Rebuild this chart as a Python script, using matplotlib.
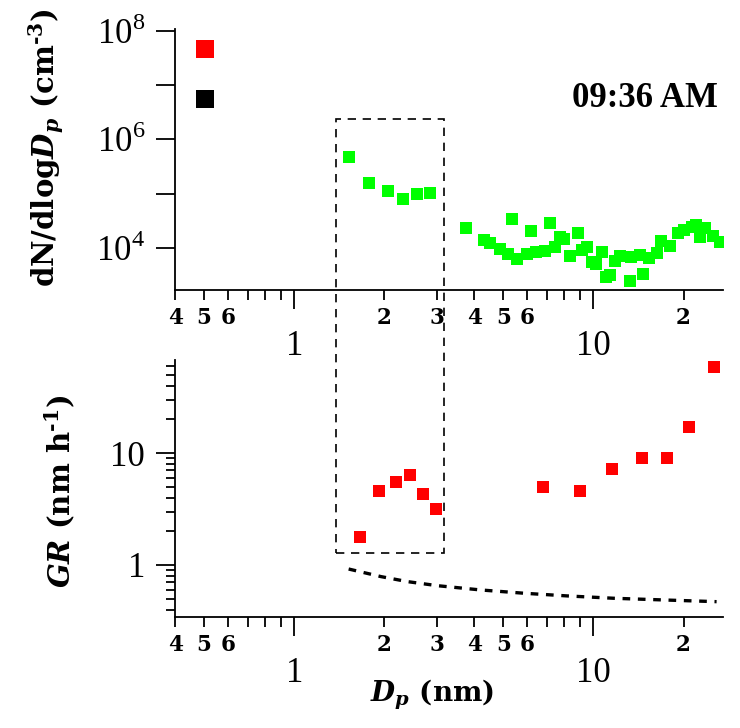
import numpy as np
import matplotlib
matplotlib.use('Agg')
import matplotlib.pyplot as plt
import matplotlib.ticker as mticker
import matplotlib.patches as patches
from matplotlib.lines import Line2D

plt.rcParams['font.family'] = 'DejaVu Serif'
plt.rcParams['mathtext.fontset'] = 'custom'
plt.rcParams['mathtext.rm'] = 'Liberation Serif'
plt.rcParams['mathtext.bf'] = 'DejaVu Serif:bold'
plt.rcParams['mathtext.it'] = 'DejaVu Serif:italic'
plt.rcParams['mathtext.bfit'] = 'DejaVu Serif:italic:bold'

# size distribution (top panel)
dp_psd = [1.53, 1.78, 2.05, 2.31, 2.57, 2.84,
          3.76, 4.31, 4.50, 4.86, 5.20, 5.57, 5.36, 5.98, 6.17, 6.44, 6.88, 7.15,
          7.43, 7.72, 7.96, 8.38, 8.87, 9.17, 9.53, 9.90, 10.23, 10.69, 11.0, 11.4,
          11.8, 12.3, 13.2, 13.4, 14.3, 14.6, 15.3, 16.3, 16.8, 18.06, 19.1, 20.0,
          21.3, 22.0, 22.7, 23.6, 25.1, 26.5]
dndlogdp = [4.7e5, 1.59e5, 1.13e5, 7.9e4, 9.8e4, 1.04e5,
            2.31e4, 1.40e4, 1.22e4, 9.5e3, 7.8e3, 6.3e3, 3.42e4, 7.8e3, 2.08e4, 8.55e3,
            8.9e3, 2.93e4, 1.03e4, 1.61e4, 1.47e4, 7.2e3, 1.87e4, 9.2e3, 1.06e4, 5.46e3,
            5.07e3, 8.6e3, 2.89e3, 3.18e3, 5.76e3, 7.1e3, 2.5e3, 6.9e3, 7.4e3, 3.3e3,
            6.7e3, 8.0e3, 1.36e4, 1.1e4, 1.87e4, 2.15e4, 2.47e4, 2.65e4, 1.61e4, 2.3e4,
            1.69e4, 1.27e4]

# growth rates (bottom panel)
dp_gr = [1.66, 1.925, 2.18, 2.44, 2.70, 2.97, 6.78, 9.05, 11.54, 14.5, 17.6, 20.9, 25.2]
gr = [1.79, 4.55, 5.54, 6.36, 4.30, 3.16, 5.0, 4.6, 7.2, 9.08, 9.08, 17.1, 59.0]

# dashed reference curve
dp_ref = [1.52, 1.95, 2.39, 3.01, 4.2, 5.86, 8.17, 11.7, 17.1, 25.8]
gr_ref = [0.92, 0.787, 0.71, 0.653, 0.598, 0.559, 0.529, 0.504, 0.487, 0.47]

# highlighted region
box_dp = (1.38, 3.17)
box_top_n = 2.4e6
box_bottom_gr = 1.28

time_label = '09:36 AM'
minor_labeled = [0.4, 0.5, 0.6, 2, 3, 4, 5, 6, 20]
HY = '\u2010'  # short hyphen for superscripts

fig = plt.figure(figsize=(7.4, 7.28), dpi=100)
ax1 = fig.add_axes([0.2365, 0.6016, 0.7405, 0.3585])
ax2 = fig.add_axes([0.2365, 0.1525, 0.7405, 0.353])


def minor_fmt(v, pos):
    for m in minor_labeled:
        if abs(v - m) / m < 1e-3:
            return '%d' % round(m / 10 ** np.floor(np.log10(m)))
    return ''


def major_fmt(v, pos):
    return '%g' % v


for ax in (ax1, ax2):
    ax.set_xscale('log')
    ax.set_yscale('log')
    ax.set_xlim(0.3995, 27.1)
    for s in ('top', 'right'):
        ax.spines[s].set_visible(False)
    for s in ('left', 'bottom'):
        ax.spines[s].set_linewidth(1.3)
    ax.xaxis.set_major_locator(mticker.FixedLocator([1, 10]))
    ax.xaxis.set_major_formatter(mticker.FuncFormatter(major_fmt))
    ax.xaxis.set_minor_locator(mticker.LogLocator(base=10, subs=np.arange(2, 10)))
    ax.xaxis.set_minor_formatter(mticker.FuncFormatter(minor_fmt))
    ax.tick_params(axis='x', which='major', length=13.5, width=1.3, pad=15,
                   labelsize=25, labelfontfamily='Liberation Serif')
    ax.tick_params(axis='x', which='minor', length=7, width=1.3, pad=5,
                   labelsize=15.5, labelfontfamily='DejaVu Serif')
    ax.tick_params(axis='y', which='major', length=13.5, width=1.3, pad=8,
                   labelsize=25, labelfontfamily='Liberation Serif')
    ax.tick_params(axis='y', which='minor', length=6.5, width=1.3)

# top panel
ax1.plot(dp_psd, dndlogdp, 's', color='#00ff00', markersize=8, markeredgewidth=0)
ax1.set_ylim(10 ** 3.227, 10 ** 8.033)
ax1.yaxis.set_major_locator(mticker.FixedLocator([1e4, 1e5, 1e6, 1e7, 1e8]))
ax1.yaxis.set_major_formatter(mticker.FuncFormatter(
    lambda v, p: '$10^{%d}$' % round(np.log10(v)) if round(np.log10(v)) % 2 == 0 else ''))
ax1.yaxis.set_minor_locator(mticker.NullLocator())
ax1.set_ylabel(r'dN/dlog$\mathbfit{D}_{\mathbfit{p}}$ (cm$^{\mathbf{' + HY + r'3}}$)',
               fontsize=21, fontweight='bold')
ax1.yaxis.set_label_coords(-0.199, 0.545)
ax1.text(0.991, 0.732, time_label, transform=ax1.transAxes, ha='right', va='center',
         fontsize=25, fontweight='bold', family='Liberation Serif')

leg_handles = [Line2D([], [], ls='none', marker='s', color='#ff0000', markersize=13, markeredgewidth=0),
               Line2D([], [], ls='none', marker='s', color='black', markersize=13, markeredgewidth=0)]
ax1.legend(leg_handles, ['', ''], loc='upper left', bbox_to_anchor=(0.0, 0.96),
           frameon=False, fontsize=12, handlelength=3.6, handleheight=2.0,
           labelspacing=1.5, borderpad=0, borderaxespad=0, handletextpad=0)

# bottom panel
ax2.plot(dp_gr, gr, 's', color='#ff0000', markersize=8, markeredgewidth=0)
ax2.plot(dp_ref, gr_ref, color='black', lw=2.4, ls=(0, (2.3, 2.3)))
ax2.set_ylim(0.343, 67.8)
ax2.yaxis.set_major_locator(mticker.FixedLocator([1, 10]))
ax2.yaxis.set_major_formatter(mticker.FuncFormatter(major_fmt))
ax2.yaxis.set_minor_locator(mticker.LogLocator(base=10, subs=np.arange(2, 10)))
ax2.yaxis.set_minor_formatter(mticker.NullFormatter())
ax2.set_ylabel(r'$\mathbfit{GR}$ (nm h$^{\mathbf{' + HY + r'1}}$)', fontsize=21, fontweight='bold')
ax2.yaxis.set_label_coords(-0.179, 0.49)
ax2.set_xlabel(r'$\mathbfit{D}_{\mathbfit{p}}$ (nm)', fontsize=20, fontweight='bold')
ax2.xaxis.set_label_coords(0.469, -0.237)

for ax in (ax1, ax2):
    for lab in ax.xaxis.get_minorticklabels():
        lab.set_fontweight('bold')

# dashed box spanning both panels
inv = fig.transFigure.inverted()
x0, y1 = inv.transform(ax1.transData.transform((box_dp[0], box_top_n)))
x1, y0 = inv.transform(ax2.transData.transform((box_dp[1], box_bottom_gr)))
fig.patches.append(patches.Rectangle((x0, y0), x1 - x0, y1 - y0, transform=fig.transFigure,
                                     fill=False, edgecolor='black', lw=1.2, ls=(0, (5, 4))))

fig.savefig('out.png', dpi=100)
